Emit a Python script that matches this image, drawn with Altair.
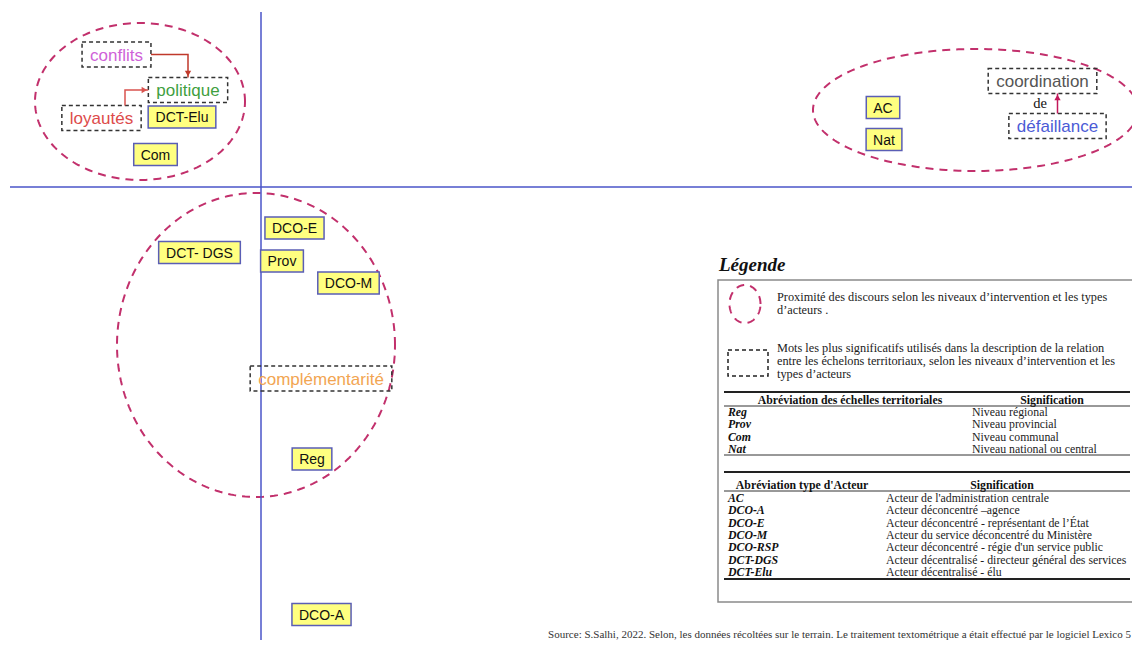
import altair as alt
import numpy as np
import pandas as pd

# ---------------- data (axis 1, axis 2) ----------------
actor_labels = ["DCT-Elu", "Com", "AC", "Nat", "DCO-E", "DCT- DGS", "Prov", "DCO-M", "Reg", "DCO-A"]
actor_f1 = [-0.790, -1.055, 6.220, 6.230, 0.335, -0.615, 0.210, 0.875, 0.510, 0.605]
actor_f2 = [0.700, 0.325, 0.795, 0.475, -0.410, -0.655, -0.740, -0.960, -2.720, -4.275]

word_labels = ["conflits", "politique", "loyautés", "coordination", "défaillance", "complémentarité"]
word_f1 = [-1.445, -0.730, -1.595, 7.815, 7.965, 0.600]
word_f2 = [1.325, 0.970, 0.690, 1.060, 0.610, -1.915]
word_colors = ["#cf62d8", "#3f9f3f", "#dd4b4b", "#555555", "#4b5bd6", "#f2a552"]

# discourse-proximity zones: centre and semi-axes
zone_ids = ["local", "central", "deconcentre"]
zone_f1 = [-1.21, 7.145, -0.05]
zone_f2 = [0.855, 0.77, -1.58]
zone_a = [1.05, 1.625, 1.39]
zone_b = [0.785, 0.61, 1.52]

# legend content
legend_title = "Légende"
legend_zone_text = ["Proximité des discours selon les niveaux d’intervention et les types",
                    "d’acteurs ."]
legend_word_text = ["Mots les plus significatifs utilisés dans la description de la relation",
                    "entre les échelons territoriaux, selon les niveaux d’intervention et les",
                    "types d’acteurs"]
table1_headers = ["Abréviation des échelles territoriales", "Signification"]
scale_abbr = ["Reg", "Prov", "Com", "Nat"]
scale_meaning = ["Niveau régional", "Niveau provincial", "Niveau communal", "Niveau national ou central"]
table2_headers = ["Abréviation type d'Acteur", "Signification"]
actor_abbr = ["AC", "DCO-A", "DCO-E", "DCO-M", "DCO-RSP", "DCT-DGS", "DCT-Elu"]
actor_meaning = ["Acteur de l'administration centrale",
                 "Acteur déconcentré –agence",
                 "Acteur déconcentré - représentant de l’État",
                 "Acteur du service déconcentré du Ministère",
                 "Acteur déconcentré - régie d'un service public",
                 "Acteur décentralisé - directeur général des services",
                 "Acteur décentralisé - élu"]
source_text = ("Source: S.Salhi, 2022. Selon, les données récoltées sur le terrain. "
               "Le traitement textométrique a était effectué par le logiciel Lexico 5")

# ---------------- layout helpers ----------------
X0, Y0, PPU = 261.0, 187.0, 100.0   # screen position of the origin, pixels per unit
W, H = 1124, 632


def ux(px):
    return (px - X0) / PPU


def uy(py):
    return (Y0 - py) / PPU


xs = alt.Scale(domain=[ux(8), ux(8 + W)], nice=False, zero=False)
ys = alt.Scale(domain=[uy(8 + H), uy(8)], nice=False, zero=False)


def X(f):
    return alt.X(f, type="quantitative", scale=xs, axis=None)


def Y(f):
    return alt.Y(f, type="quantitative", scale=ys, axis=None)


ARIAL = {" ": 278, "-": 333, "A": 667, "C": 722, "D": 722, "E": 667, "G": 778, "M": 833,
         "N": 722, "O": 778, "P": 667, "R": 722, "S": 667, "T": 611, "a": 556, "c": 500,
         "d": 556, "e": 556, "é": 556, "f": 278, "g": 556, "i": 222, "l": 222, "m": 833,
         "n": 556, "o": 556, "p": 556, "q": 556, "r": 333, "s": 500, "t": 278, "u": 556,
         "v": 500, "y": 500}


def tw(s, fs):
    return sum(ARIAL.get(c, 556) for c in s) / 1000.0 * fs


ACT_FS, WORD_FS = 14, 17
ACT_PAD, WORD_PAD = 7, 8
ACT_HH, WORD_HH = 11, 12.5

actors = pd.DataFrame({"text": actor_labels, "x": actor_f1, "y": actor_f2})
actors["hw"] = [(tw(s, ACT_FS) / 2 + ACT_PAD) / PPU for s in actor_labels]
actors["x1"] = actors.x - actors.hw
actors["x2"] = actors.x + actors.hw
actors["y1"] = actors.y - ACT_HH / PPU
actors["y2"] = actors.y + ACT_HH / PPU

words = pd.DataFrame({"text": word_labels, "x": word_f1, "y": word_f2, "color": word_colors})
words["hw"] = [(tw(s, WORD_FS) / 2 + WORD_PAD) / PPU for s in word_labels]
words["x1"] = words.x - words.hw
words["x2"] = words.x + words.hw
words["y1"] = words.y - WORD_HH / PPU
words["y2"] = words.y + WORD_HH / PPU
wb = words.set_index("text")

# zones (ellipse outlines) + legend icon circle
theta = np.linspace(0, 2 * np.pi, 241)
zrows = []
zone_specs = list(zip(zone_ids, zone_f1, zone_f2, zone_a, zone_b))
zone_specs.append(("legend", ux(745), uy(304), 15.5 / PPU, 19 / PPU))
for zid, cx, cy, a, b in zone_specs:
    for k, t in enumerate(theta):
        zrows.append({"id": zid, "k": k, "x": cx + a * np.cos(t), "y": cy + b * np.sin(t)})
zones = pd.DataFrame(zrows)

# arrows linking words (routed from the box geometry)
c, p, l = wb.loc["conflits"], wb.loc["politique"], wb.loc["loyautés"]
co, de = wb.loc["coordination"], wb.loc["défaillance"]
arrow_paths = [
    ("a1", "#c0392b", [(c.x2, c.y), (p.x, c.y), (p.x, p.y2)]),
    ("a2", "#d9534f", [(l.x + 0.235, l.y2), (l.x + 0.235, p.y), (p.x1, p.y)]),
    ("a3", "#c2185b", [(de.x, de.y2), (de.x, co.y1)]),
]
arows, heads = [], []
for aid, col, pts in arrow_paths:
    for k, (ax_, ay_) in enumerate(pts):
        arows.append({"id": aid, "k": k, "x": ax_, "y": ay_, "color": col})
    (xa, ya), (xb, yb) = pts[-2], pts[-1]
    if abs(xb - xa) > abs(yb - ya):
        shape = "triangle-right" if xb > xa else "triangle-left"
        heads.append({"x": xb - np.sign(xb - xa) * 0.04, "y": yb, "shape": shape, "color": col})
    else:
        shape = "triangle-up" if yb > ya else "triangle-down"
        heads.append({"x": xb, "y": yb - np.sign(yb - ya) * 0.04, "shape": shape, "color": col})
arrows = pd.DataFrame(arows)
arrow_heads = pd.DataFrame(heads)

# axis lines
axes_df = pd.DataFrame({"x": [0.0, ux(10)], "x2": [0.0, ux(1140)],
                        "y": [uy(12), 0.0], "y2": [uy(648), 0.0]})

# ---------------- legend layout (screen pixels -> units) ----------------
LX, LX2 = 718, 1136
body_rows, para_rows, bold_rows, bi_rows = [], [], [], []
for i, s in enumerate(legend_zone_text):
    para_rows.append({"text": s, "x": ux(777), "y": uy(297 + 13 * i)})
for i, s in enumerate(legend_word_text):
    para_rows.append({"text": s, "x": ux(777), "y": uy(348 + 13 * i)})
bold_rows.append({"text": table1_headers[0], "x": ux(850), "y": uy(400)})
bold_rows.append({"text": table1_headers[1], "x": ux(1052), "y": uy(400)})
for i, (a, m) in enumerate(zip(scale_abbr, scale_meaning)):
    yy = uy(412 + 12.4 * i)
    bi_rows.append({"text": a, "x": ux(728), "y": yy})
    body_rows.append({"text": m, "x": ux(972), "y": yy})
bold_rows.append({"text": table2_headers[0], "x": ux(802), "y": uy(485)})
bold_rows.append({"text": table2_headers[1], "x": ux(1002), "y": uy(485)})
for i, (a, m) in enumerate(zip(actor_abbr, actor_meaning)):
    yy = uy(498 + 12.35 * i)
    bi_rows.append({"text": a, "x": ux(728), "y": yy})
    body_rows.append({"text": m, "x": ux(886), "y": yy})
leg_body = pd.DataFrame(body_rows)
leg_para = pd.DataFrame(para_rows)
leg_bold = pd.DataFrame(bold_rows)
leg_bi = pd.DataFrame(bi_rows)
leg_title = pd.DataFrame({"text": [legend_title], "x": [ux(719)], "y": [uy(271)]})
leg_box = pd.DataFrame({"x1": [ux(LX)], "x2": [ux(LX2)], "y1": [uy(280)], "y2": [uy(602)]})
leg_icon = pd.DataFrame({"x1": [ux(728)], "x2": [ux(768)], "y1": [uy(350)], "y2": [uy(376)]})
thick = pd.DataFrame({"x": [ux(724)] * 3, "x2": [ux(1130)] * 3, "y": [uy(392), uy(472), uy(579)]})
thin = pd.DataFrame({"x": [ux(724)] * 3, "x2": [ux(1130)] * 3, "y": [uy(406), uy(455), uy(491)]})
src = pd.DataFrame({"text": [source_text], "x": [ux(1131)], "y": [uy(635)]})
de_df = pd.DataFrame({"text": ["de"], "x": [co.x - 0.025], "y": [uy(104)]})

# ---------------- layers ----------------
zone_layer = alt.Chart(zones).mark_line(color="#c2306c", strokeWidth=2, strokeDash=[8, 6]).encode(
    x=X("x"), y=Y("y"), detail="id:N", order=alt.Order("k:Q"))

axis_layer = alt.Chart(axes_df).mark_rule(color="#4a55c8", strokeWidth=1.5, clip=True).encode(
    x=X("x"), x2=alt.X2("x2"), y=Y("y"), y2=alt.Y2("y2"))

word_box = alt.Chart(words).mark_rect(fill="white", fillOpacity=0, stroke="#333333",
                                      strokeWidth=1.5, strokeDash=[4, 3]).encode(
    x=X("x1"), x2=alt.X2("x2"), y=Y("y1"), y2=alt.Y2("y2"))

actor_box = alt.Chart(actors).mark_rect(fill="#ffff80", stroke="#5a5eb5", strokeWidth=1.5).encode(
    x=X("x1"), x2=alt.X2("x2"), y=Y("y1"), y2=alt.Y2("y2"))

arrow_layer = alt.Chart(arrows).mark_line(strokeWidth=1.5).encode(
    x=X("x"), y=Y("y"), detail="id:N", order=alt.Order("k:Q"),
    color=alt.Color("color:N", scale=None))

head_layer = alt.Chart(arrow_heads).mark_point(filled=True, size=40, opacity=1).encode(
    x=X("x"), y=Y("y"), shape=alt.Shape("shape:N", scale=None),
    color=alt.Color("color:N", scale=None))

actor_text = alt.Chart(actors).mark_text(font="Liberation Sans", fontSize=ACT_FS, color="#111111",
                                         align="center", baseline="middle", dy=1).encode(
    x=X("x"), y=Y("y"), text="text:N")

word_text = alt.Chart(words).mark_text(font="Liberation Sans", fontSize=WORD_FS,
                                       align="center", baseline="middle", dy=1).encode(
    x=X("x"), y=Y("y"), text="text:N", color=alt.Color("color:N", scale=None))

de_text = alt.Chart(de_df).mark_text(font="Liberation Serif", fontSize=14.5, color="#111111",
                                     align="center", baseline="middle").encode(
    x=X("x"), y=Y("y"), text="text:N")

leg_title_layer = alt.Chart(leg_title).mark_text(font="Liberation Serif", fontSize=19, fontWeight="bold",
                                                 fontStyle="italic", align="left",
                                                 baseline="alphabetic", color="#111111").encode(
    x=X("x"), y=Y("y"), text="text:N")

leg_box_layer = alt.Chart(leg_box).mark_rect(fill="white", fillOpacity=0, stroke="#8a8a8a",
                                             strokeWidth=1.5).encode(
    x=X("x1"), x2=alt.X2("x2"), y=Y("y1"), y2=alt.Y2("y2"))

leg_icon_layer = alt.Chart(leg_icon).mark_rect(fill="white", fillOpacity=0, stroke="#222222",
                                               strokeWidth=1.5, strokeDash=[4, 3]).encode(
    x=X("x1"), x2=alt.X2("x2"), y=Y("y1"), y2=alt.Y2("y2"))

thick_layer = alt.Chart(thick).mark_rule(color="#222222", strokeWidth=2).encode(
    x=X("x"), x2=alt.X2("x2"), y=Y("y"))
thin_layer = alt.Chart(thin).mark_rule(color="#333333", strokeWidth=1).encode(
    x=X("x"), x2=alt.X2("x2"), y=Y("y"))

leg_para_layer = alt.Chart(leg_para).mark_text(font="Liberation Serif", fontSize=12.3, color="#222222",
                                               align="left", baseline="middle").encode(
    x=X("x"), y=Y("y"), text="text:N")
leg_body_layer = alt.Chart(leg_body).mark_text(font="Liberation Serif", fontSize=11.8, color="#222222",
                                               align="left", baseline="middle").encode(
    x=X("x"), y=Y("y"), text="text:N")
leg_bold_layer = alt.Chart(leg_bold).mark_text(font="Liberation Serif", fontSize=11.8, fontWeight="bold",
                                               color="#111111", align="center", baseline="middle").encode(
    x=X("x"), y=Y("y"), text="text:N")
leg_bi_layer = alt.Chart(leg_bi).mark_text(font="Liberation Serif", fontSize=11.8, fontWeight="bold",
                                           fontStyle="italic", color="#111111", align="left",
                                           baseline="middle").encode(
    x=X("x"), y=Y("y"), text="text:N")

src_layer = alt.Chart(src).mark_text(font="Liberation Serif", fontSize=11, color="#333333",
                                     align="right", baseline="middle").encode(
    x=X("x"), y=Y("y"), text="text:N")

chart = alt.layer(
    zone_layer, axis_layer, word_box, actor_box, arrow_layer, head_layer,
    actor_text, word_text, de_text,
    leg_title_layer, leg_box_layer, leg_icon_layer, thick_layer, thin_layer,
    leg_para_layer, leg_body_layer, leg_bold_layer, leg_bi_layer, src_layer,
).properties(
    width=W, height=H, padding=0, background="white",
    autosize=alt.AutoSizeParams(type="none"),
).configure_view(stroke=None)

chart.save("out.html", embed_options={"renderer": "svg", "actions": False})
